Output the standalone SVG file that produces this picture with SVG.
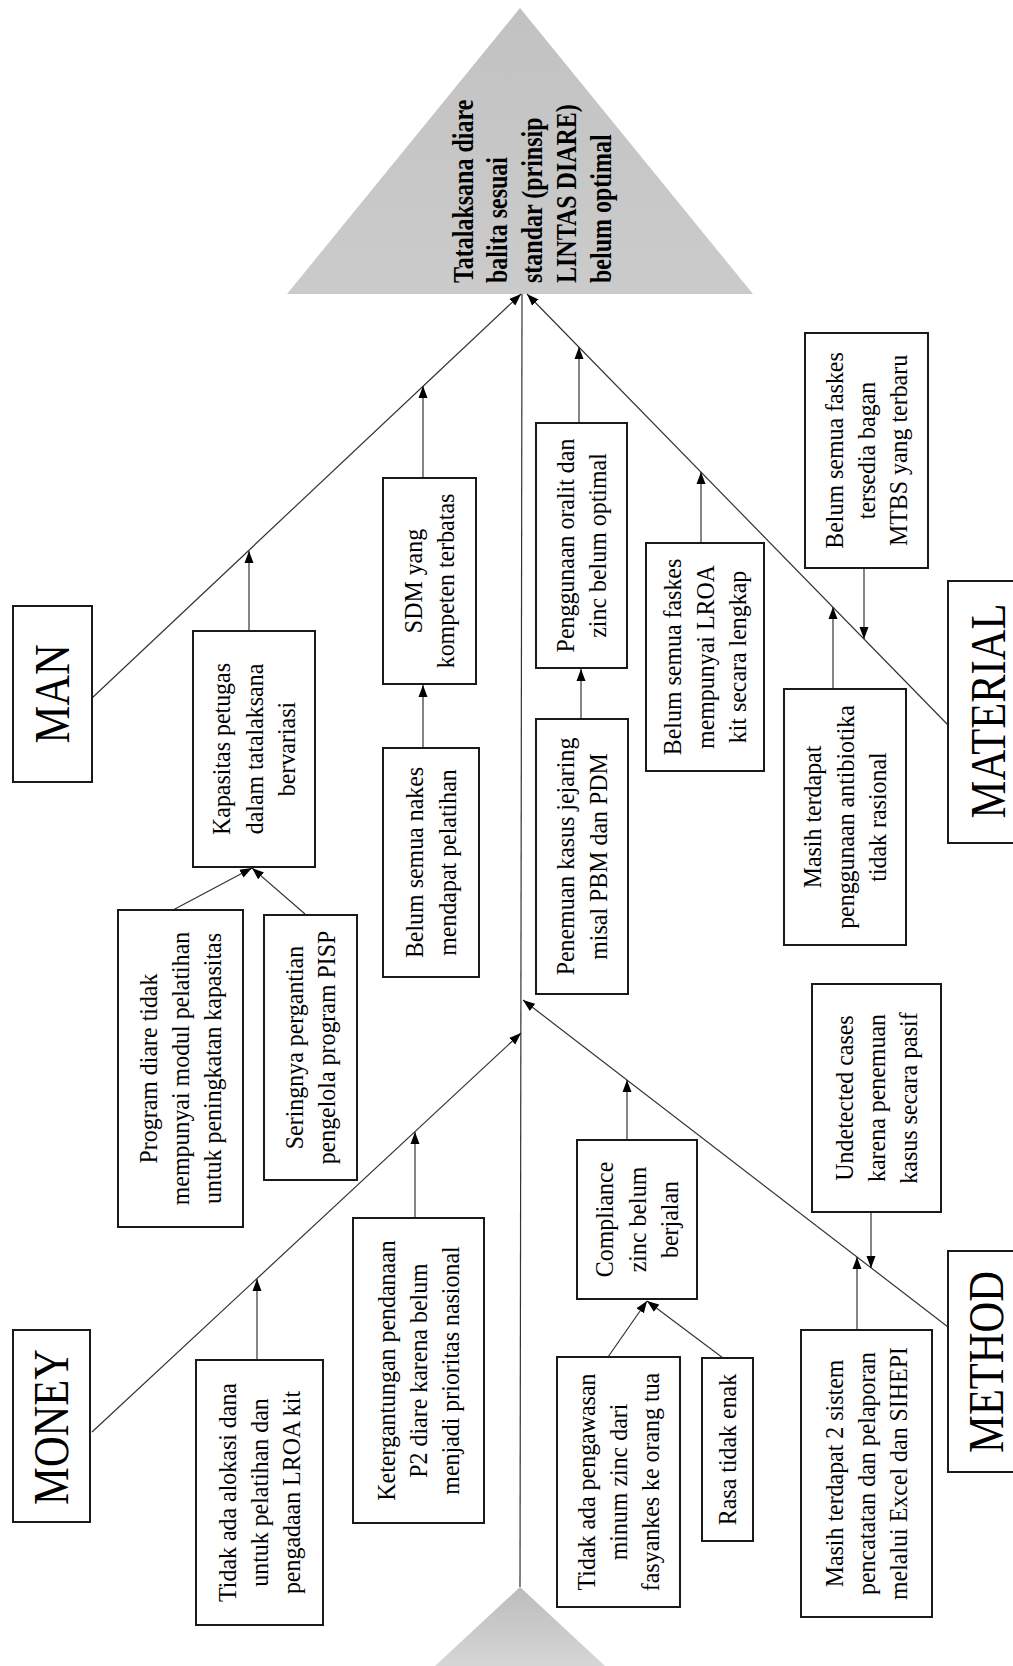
<svg xmlns="http://www.w3.org/2000/svg" width="1013" height="1666" viewBox="0 0 1013 1666">
<defs>
<linearGradient id="gBig" x1="0" y1="0" x2="0" y2="1"><stop offset="0" stop-color="#c2c2c2"/><stop offset="1" stop-color="#cbcbcb"/></linearGradient>
<linearGradient id="gSmall" x1="0" y1="0" x2="0" y2="1"><stop offset="0" stop-color="#bcbcbc"/><stop offset="1" stop-color="#d6d6d6"/></linearGradient>
<marker id="ah" markerWidth="12" markerHeight="10" refX="12" refY="5" orient="auto" markerUnits="userSpaceOnUse"><path d="M0,0.5 L12,5 L0,9.5 z" fill="#000"/></marker>
</defs>
<style>
.box{fill:#fff;stroke:#1a1a1a;stroke-width:2}
.t{font-family:"Liberation Serif","Times New Roman",serif;font-size:26px;fill:#000;text-anchor:middle}
.lbl{font-family:"Liberation Serif","Times New Roman",serif;font-size:50px;fill:#000;text-anchor:middle}
.ttl{font-family:"Liberation Serif","Times New Roman",serif;font-size:30px;font-weight:bold;fill:#000}
.c{stroke:#333;stroke-width:1.2;fill:none}
.ca{marker-end:url(#ah)}
</style>
<rect x="0" y="0" width="1013" height="1666" fill="#fff"/>

<g id="head">
<polygon points="520,8 287,294 753,294" fill="url(#gBig)"/>
<text class="ttl" transform="translate(0,283) rotate(-90) scale(0.8,1)"><tspan x="0" y="473">Tatalaksana diare</tspan><tspan x="0" y="507.5">balita sesuai</tspan><tspan x="0" y="542">standar (prinsip</tspan><tspan x="0" y="576.5">LINTAS DIARE)</tspan><tspan x="0" y="611">belum optimal</tspan></text>
</g>
<g id="tail">
<polygon points="520,1587 435,1666 605,1666" fill="url(#gSmall)"/>
</g>

<g id="connectors">
<line class="c" x1="520" y1="1587" x2="522" y2="294"/>
<line class="c ca" x1="92" y1="698" x2="521" y2="294"/>
<line class="c ca" x1="948" y1="725" x2="527" y2="294"/>
<line class="c ca" x1="92" y1="1432" x2="521" y2="1033"/>
<line class="c ca" x1="948" y1="1327" x2="523" y2="1000"/>
<line class="c ca" x1="249" y1="631" x2="249" y2="551"/>
<line class="c ca" x1="423" y1="478" x2="423" y2="386"/>
<line class="c ca" x1="423" y1="748" x2="423" y2="685"/>
<line class="c ca" x1="173" y1="910" x2="252" y2="868"/>
<line class="c ca" x1="305" y1="914" x2="252" y2="868"/>
<line class="c ca" x1="579" y1="423" x2="579" y2="347"/>
<line class="c ca" x1="581" y1="719" x2="581" y2="669"/>
<line class="c ca" x1="701" y1="543" x2="701" y2="472"/>
<line class="c ca" x1="864" y1="568" x2="864" y2="639"/>
<line class="c ca" x1="833" y1="689" x2="833" y2="607"/>
<line class="c ca" x1="415" y1="1218" x2="415" y2="1132"/>
<line class="c ca" x1="257" y1="1360" x2="257" y2="1279"/>
<line class="c ca" x1="627" y1="1140" x2="627" y2="1080"/>
<line class="c ca" x1="608" y1="1357" x2="647" y2="1301"/>
<line class="c ca" x1="723" y1="1358" x2="647" y2="1301"/>
<line class="c ca" x1="871" y1="1212" x2="871" y2="1268"/>
<line class="c ca" x1="857" y1="1330" x2="857" y2="1257"/>
</g>

<g id="lbl-man"><rect class="box" x="13" y="606" width="79" height="176"/><text class="lbl" transform="translate(52.5,694) rotate(-90) scale(0.85,1)"><tspan x="0" y="16">MAN</tspan></text></g>
<g id="lbl-material"><rect class="box" x="948" y="581" width="80" height="262"/><text class="lbl" transform="translate(989,711) rotate(-90) scale(0.85,1)"><tspan x="0" y="16">MATERIAL</tspan></text></g>
<g id="lbl-money"><rect class="box" x="13" y="1330" width="77" height="192"/><text class="lbl" transform="translate(51.5,1427) rotate(-90) scale(0.85,1)"><tspan x="0" y="16.5">MONEY</tspan></text></g>
<g id="lbl-method"><rect class="box" x="948" y="1251" width="80" height="221"/><text class="lbl" transform="translate(987,1362) rotate(-90) scale(0.85,1)"><tspan x="0" y="16">METHOD</tspan></text></g>

<g id="n-kapasitas"><rect class="box" x="193" y="631" width="122" height="236"/><text class="t" transform="translate(254,749) rotate(-90) scale(0.92,1)"><tspan x="0" y="-24">Kapasitas petugas</tspan><tspan x="0" y="8.5">dalam tatalaksana</tspan><tspan x="0" y="41">bervariasi</tspan></text></g>
<g id="n-sdm"><rect class="box" x="383" y="478" width="93" height="206"/><text class="t" transform="translate(429.5,581) rotate(-90) scale(0.92,1)"><tspan x="0" y="-7.75">SDM yang</tspan><tspan x="0" y="24.75">kompeten terbatas</tspan></text></g>
<g id="n-nakes"><rect class="box" x="383" y="748" width="96" height="229"/><text class="t" transform="translate(431,862.5) rotate(-90) scale(0.92,1)"><tspan x="0" y="-7.75">Belum semua nakes</tspan><tspan x="0" y="24.75">mendapat pelatihan</tspan></text></g>
<g id="n-program"><rect class="box" x="118" y="910" width="125" height="317"/><text class="t" transform="translate(180.5,1068.5) rotate(-90) scale(0.92,1)"><tspan x="0" y="-24">Program diare tidak</tspan><tspan x="0" y="8.5">mempunyai modul pelatihan</tspan><tspan x="0" y="41">untuk peningkatan kapasitas</tspan></text></g>
<g id="n-seringnya"><rect class="box" x="264" y="915" width="93" height="265"/><text class="t" transform="translate(310.5,1047.5) rotate(-90) scale(0.92,1)"><tspan x="0" y="-7.75">Seringnya pergantian</tspan><tspan x="0" y="24.75">pengelola program PISP</tspan></text></g>
<g id="n-penggunaan"><rect class="box" x="536" y="423" width="91" height="245"/><text class="t" transform="translate(581.5,545.5) rotate(-90) scale(0.92,1)"><tspan x="0" y="-7.75">Penggunaan oralit dan</tspan><tspan x="0" y="24.75">zinc belum optimal</tspan></text></g>
<g id="n-penemuan"><rect class="box" x="536" y="719" width="92" height="275"/><text class="t" transform="translate(582,856.5) rotate(-90) scale(0.92,1)"><tspan x="0" y="-7.75">Penemuan kasus jejaring</tspan><tspan x="0" y="24.75">misal PBM dan PDM</tspan></text></g>
<g id="n-lroa"><rect class="box" x="646" y="543" width="118" height="228"/><text class="t" transform="translate(705,657) rotate(-90) scale(0.92,1)"><tspan x="0" y="-24">Belum semua faskes</tspan><tspan x="0" y="8.5">mempunyai LROA</tspan><tspan x="0" y="41">kit secara lengkap</tspan></text></g>
<g id="n-mtbs"><rect class="box" x="805" y="333" width="123" height="235"/><text class="t" transform="translate(866.5,450.5) rotate(-90) scale(0.92,1)"><tspan x="0" y="-24">Belum semua faskes</tspan><tspan x="0" y="8.5">tersedia bagan</tspan><tspan x="0" y="41">MTBS yang terbaru</tspan></text></g>
<g id="n-antibiotika"><rect class="box" x="784" y="689" width="122" height="256"/><text class="t" transform="translate(845,817) rotate(-90) scale(0.92,1)"><tspan x="0" y="-24">Masih terdapat</tspan><tspan x="0" y="8.5">penggunaan antibiotika</tspan><tspan x="0" y="41">tidak rasional</tspan></text></g>
<g id="n-ketergantungan"><rect class="box" x="353" y="1218" width="131" height="305"/><text class="t" transform="translate(418.5,1370.5) rotate(-90) scale(0.92,1)"><tspan x="0" y="-24">Ketergantungan pendanaan</tspan><tspan x="0" y="8.5">P2 diare karena belum</tspan><tspan x="0" y="41">menjadi prioritas nasional</tspan></text></g>
<g id="n-alokasi"><rect class="box" x="196" y="1360" width="127" height="265"/><text class="t" transform="translate(259.5,1492.5) rotate(-90) scale(0.92,1)"><tspan x="0" y="-24">Tidak ada alokasi dana</tspan><tspan x="0" y="8.5">untuk pelatihan dan</tspan><tspan x="0" y="41">pengadaan LROA kit</tspan></text></g>
<g id="n-compliance"><rect class="box" x="577" y="1140" width="120" height="159"/><text class="t" transform="translate(637,1219.5) rotate(-90) scale(0.92,1)"><tspan x="0" y="-24">Compliance</tspan><tspan x="0" y="8.5">zinc belum</tspan><tspan x="0" y="41">berjalan</tspan></text></g>
<g id="n-pengawasan"><rect class="box" x="557" y="1357" width="123" height="250"/><text class="t" transform="translate(618.5,1482) rotate(-90) scale(0.92,1)"><tspan x="0" y="-24">Tidak ada pengawasan</tspan><tspan x="0" y="8.5">minum zinc dari</tspan><tspan x="0" y="41">fasyankes ke orang tua</tspan></text></g>
<g id="n-rasa"><rect class="box" x="702" y="1358" width="51" height="183"/><text class="t" transform="translate(727.5,1449.5) rotate(-90) scale(0.92,1)"><tspan x="0" y="8.5">Rasa tidak enak</tspan></text></g>
<g id="n-undetected"><rect class="box" x="812" y="984" width="129" height="228"/><text class="t" transform="translate(876.5,1098) rotate(-90) scale(0.92,1)"><tspan x="0" y="-24">Undetected cases</tspan><tspan x="0" y="8.5">karena penemuan</tspan><tspan x="0" y="41">kasus secara pasif</tspan></text></g>
<g id="n-sistem"><rect class="box" x="801" y="1330" width="131" height="287"/><text class="t" transform="translate(866.5,1473.5) rotate(-90) scale(0.92,1)"><tspan x="0" y="-24">Masih terdapat 2 sistem</tspan><tspan x="0" y="8.5">pencatatan dan pelaporan</tspan><tspan x="0" y="41">melalui Excel dan SIHEPI</tspan></text></g>
</svg>
